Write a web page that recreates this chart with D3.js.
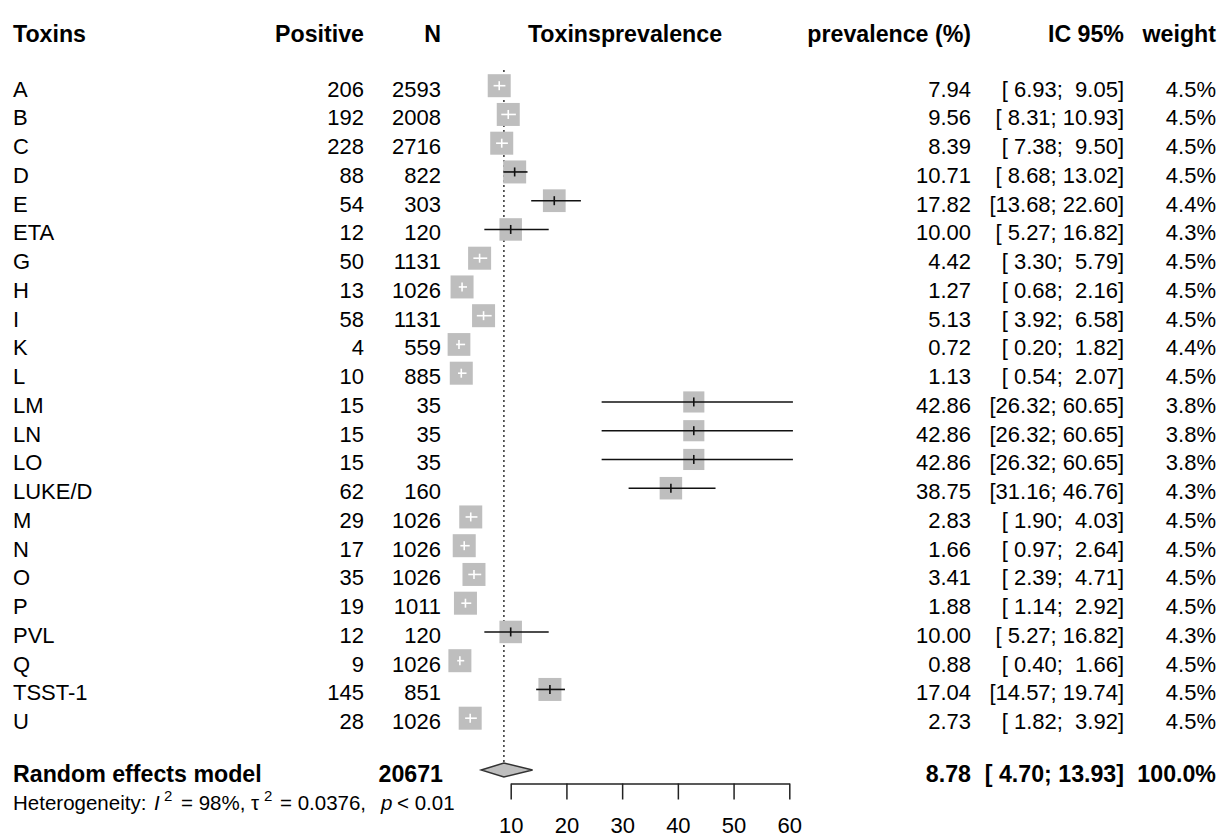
<!DOCTYPE html>
<html>
<head>
<meta charset="utf-8">
<script src="https://cdn.jsdelivr.net/npm/d3@7"></script>
<style>
	body { margin: 0; background: #fff; }
	svg text { font-family: "Liberation Sans", Arial, sans-serif; white-space: pre; fill: #000; }
	.bold { font-weight: bold; }
</style>
</head>
<body>
<svg id="chart"></svg>
<script>
// Study rows
const toxins = ["A", "B", "C", "D", "E", "ETA", "G", "H", "I", "K", "L", "LM", "LN", "LO", "LUKE/D", "M", "N", "O", "P", "PVL", "Q", "TSST-1", "U"];
const positive = [206, 192, 228, 88, 54, 12, 50, 13, 58, 4, 10, 15, 15, 15, 62, 29, 17, 35, 19, 12, 9, 145, 28];
const totals = [2593, 2008, 2716, 822, 303, 120, 1131, 1026, 1131, 559, 885, 35, 35, 35, 160, 1026, 1026, 1026, 1011, 120, 1026, 851, 1026];
const prevalence = [7.94, 9.56, 8.39, 10.71, 17.82, 10.00, 4.42, 1.27, 5.13, 0.72, 1.13, 42.86, 42.86, 42.86, 38.75, 2.83, 1.66, 3.41, 1.88, 10.00, 0.88, 17.04, 2.73];
const lower = [6.93, 8.31, 7.38, 8.68, 13.68, 5.27, 3.30, 0.68, 3.92, 0.20, 0.54, 26.32, 26.32, 26.32, 31.16, 1.90, 0.97, 2.39, 1.14, 5.27, 0.40, 14.57, 1.82];
const upper = [9.05, 10.93, 9.50, 13.02, 22.60, 16.82, 5.79, 2.16, 6.58, 1.82, 2.07, 60.65, 60.65, 60.65, 46.76, 4.03, 2.64, 4.71, 2.92, 16.82, 1.66, 19.74, 3.92];
const weights = [4.5, 4.5, 4.5, 4.5, 4.4, 4.3, 4.5, 4.5, 4.5, 4.4, 4.5, 3.8, 3.8, 3.8, 4.3, 4.5, 4.5, 4.5, 4.5, 4.3, 4.5, 4.5, 4.5];

// Pooled estimate
const pooledN = 20671;
const pooled = [8.78, 4.70, 13.93];
const pooledWeight = "100.0%";

// Axis ticks and column headers
const xTicks = [10, 20, 30, 40, 50, 60];
const headers = ["Toxins", "Positive", "N", "Toxinsprevalence", "prevalence (%)", "IC 95%", "weight"];

const width = 1224, height = 837;

const svg = d3.select("#chart")
	.attr("width", width)
	.attr("height", height);

svg.append("rect")
	.attr("width", width)
	.attr("height", height)
	.attr("fill", "#fff");

const data = toxins.map((t, i) => ({
	name: t, pos: positive[i], n: totals[i], est: prevalence[i],
	lo: lower[i], hi: upper[i], w: weights[i]
}));

// Scales
const xScale = d3.scaleLinear()
	.domain([10, 60])
	.range([510.7, 789.3]);

const yScale = d3.scalePoint()
	.domain(toxins)
	.range([85.7, 718.2]);

const boxSize = d3.scaleSqrt()
	.domain([0, 4.5])
	.range([0, 23]);

// Column anchors
const col = { name: 13, pos: 364, n: 441, plot: 625, prev: 971, ci: 1124, weight: 1216 };
const fontSize = 22, boldSize = 23.2;

const pad = v => {
	const s = v.toFixed(2);
	return " ".repeat(Math.max(0, 5 - s.length)) + s;
};
const ciText = (lo, hi) => "[" + pad(lo) + "; " + pad(hi) + "]";

// Header row
const headerX = [col.name, col.pos, col.n, col.plot, col.prev, col.ci, col.weight];
const headerAnchor = ["start", "end", "end", "middle", "end", "end", "end"];
svg.append("g").selectAll("text")
	.data(headers)
	.join("text")
	.attr("class", "bold")
	.attr("x", (d, i) => headerX[i])
	.attr("y", 41.5)
	.attr("text-anchor", (d, i) => headerAnchor[i])
	.style("font-size", boldSize + "px")
	.text(d => d);

// Reference line at the pooled estimate
svg.append("line")
	.attr("x1", xScale(pooled[0]))
	.attr("x2", xScale(pooled[0]))
	.attr("y1", 70)
	.attr("y2", 763)
	.attr("stroke", "#222")
	.attr("stroke-width", 1.4)
	.attr("stroke-dasharray", "2,3");

// Text columns for each study
const rows = svg.append("g").selectAll("g")
	.data(data)
	.join("g")
	.attr("transform", d => `translate(0,${yScale(d.name) + 11})`)
	.style("font-size", fontSize + "px");

rows.append("text").attr("x", col.name).text(d => d.name);
rows.append("text").attr("x", col.pos).attr("text-anchor", "end").text(d => d.pos);
rows.append("text").attr("x", col.n).attr("text-anchor", "end").text(d => d.n);
rows.append("text").attr("x", col.prev).attr("text-anchor", "end").text(d => d.est.toFixed(2));
rows.append("text").attr("x", col.ci).attr("text-anchor", "end").attr("xml:space", "preserve").text(d => ciText(d.lo, d.hi));
rows.append("text").attr("x", col.weight).attr("text-anchor", "end").text(d => d.w.toFixed(1) + "%");

// Squares, CI lines and centre ticks
const marks = svg.append("g").selectAll("g")
	.data(data)
	.join("g")
	.attr("transform", d => `translate(0,${yScale(d.name)})`);

marks.append("rect")
	.attr("x", d => xScale(d.est) - boxSize(d.w) / 2)
	.attr("y", d => -boxSize(d.w) / 2)
	.attr("width", d => boxSize(d.w))
	.attr("height", d => boxSize(d.w))
	.attr("fill", "#bebebe");

// CI drawn white when it fits inside the box
const inside = d => xScale(d.lo) >= xScale(d.est) - boxSize(d.w) / 2 && xScale(d.hi) <= xScale(d.est) + boxSize(d.w) / 2;

marks.append("line")
	.attr("x1", d => xScale(d.lo))
	.attr("x2", d => xScale(d.hi))
	.attr("y1", 0)
	.attr("y2", 0)
	.attr("stroke", d => inside(d) ? "#fff" : "#111")
	.attr("stroke-width", 1.6);

marks.append("line")
	.attr("x1", d => xScale(d.est))
	.attr("x2", d => xScale(d.est))
	.attr("y1", -4.5)
	.attr("y2", 4.5)
	.attr("stroke", d => inside(d) ? "#fff" : "#111")
	.attr("stroke-width", 1.6);

// Pooled row
const pooledY = 770;
svg.append("polygon")
	.attr("points", [
		[xScale(pooled[1]), pooledY],
		[xScale(pooled[0]), pooledY - 7],
		[xScale(pooled[2]), pooledY],
		[xScale(pooled[0]), pooledY + 7]
	].map(p => p.join(",")).join(" "))
	.attr("fill", "#bebebe")
	.attr("stroke", "#333")
	.attr("stroke-width", 1.4);

const pooledRow = svg.append("g")
	.attr("class", "bold")
	.attr("transform", "translate(0,781.5)")
	.style("font-size", boldSize + "px");

pooledRow.append("text").attr("x", col.name).text("Random effects model");
pooledRow.append("text").attr("x", col.n + 2).attr("text-anchor", "end").text(pooledN);
pooledRow.append("text").attr("x", col.prev).attr("text-anchor", "end").text(pooled[0].toFixed(2));
pooledRow.append("text").attr("x", col.ci).attr("text-anchor", "end").attr("xml:space", "preserve").text(ciText(pooled[1], pooled[2]));
pooledRow.append("text").attr("x", col.weight).attr("text-anchor", "end").text(pooledWeight);

// Heterogeneity line, plotmath-like spacing
const het = svg.append("text")
	.attr("y", 810)
	.style("font-size", "20.5px");
const hetParts = [
	{ t: "Heterogeneity:", x: 13 },
	{ t: "I", x: 154, italic: true },
	{ t: "2", x: 164, sup: true },
	{ t: "= 98%,", x: 181 },
	{ t: "τ", x: 251 },
	{ t: "2", x: 264, sup: true },
	{ t: "= 0.0376,", x: 280 },
	{ t: "p", x: 381, italic: true },
	{ t: "< 0.01", x: 397 }
];
het.selectAll("tspan")
	.data(hetParts)
	.join("tspan")
	.attr("x", d => d.x)
	.attr("y", d => d.sup ? 801 : 810)
	.style("font-style", d => d.italic ? "italic" : null)
	.style("font-size", d => d.sup ? "15px" : null)
	.text(d => d.t);

// x axis
const xAxis = d3.axisBottom(xScale)
	.tickValues(xTicks)
	.tickSize(16)
	.tickSizeOuter(0)
	.tickPadding(18)
	.tickFormat(d3.format("d"));

const xAxisG = svg.append("g")
	.attr("transform", "translate(0,783.5)")
	.call(xAxis);

xAxisG.selectAll("path, line")
	.attr("stroke", "#222")
	.attr("stroke-width", 1.5);
xAxisG.selectAll("text")
	.attr("font-family", null)
	.attr("font-size", null)
	.style("font-size", fontSize + "px")
	.attr("fill", "#000");
</script>
</body>
</html>
